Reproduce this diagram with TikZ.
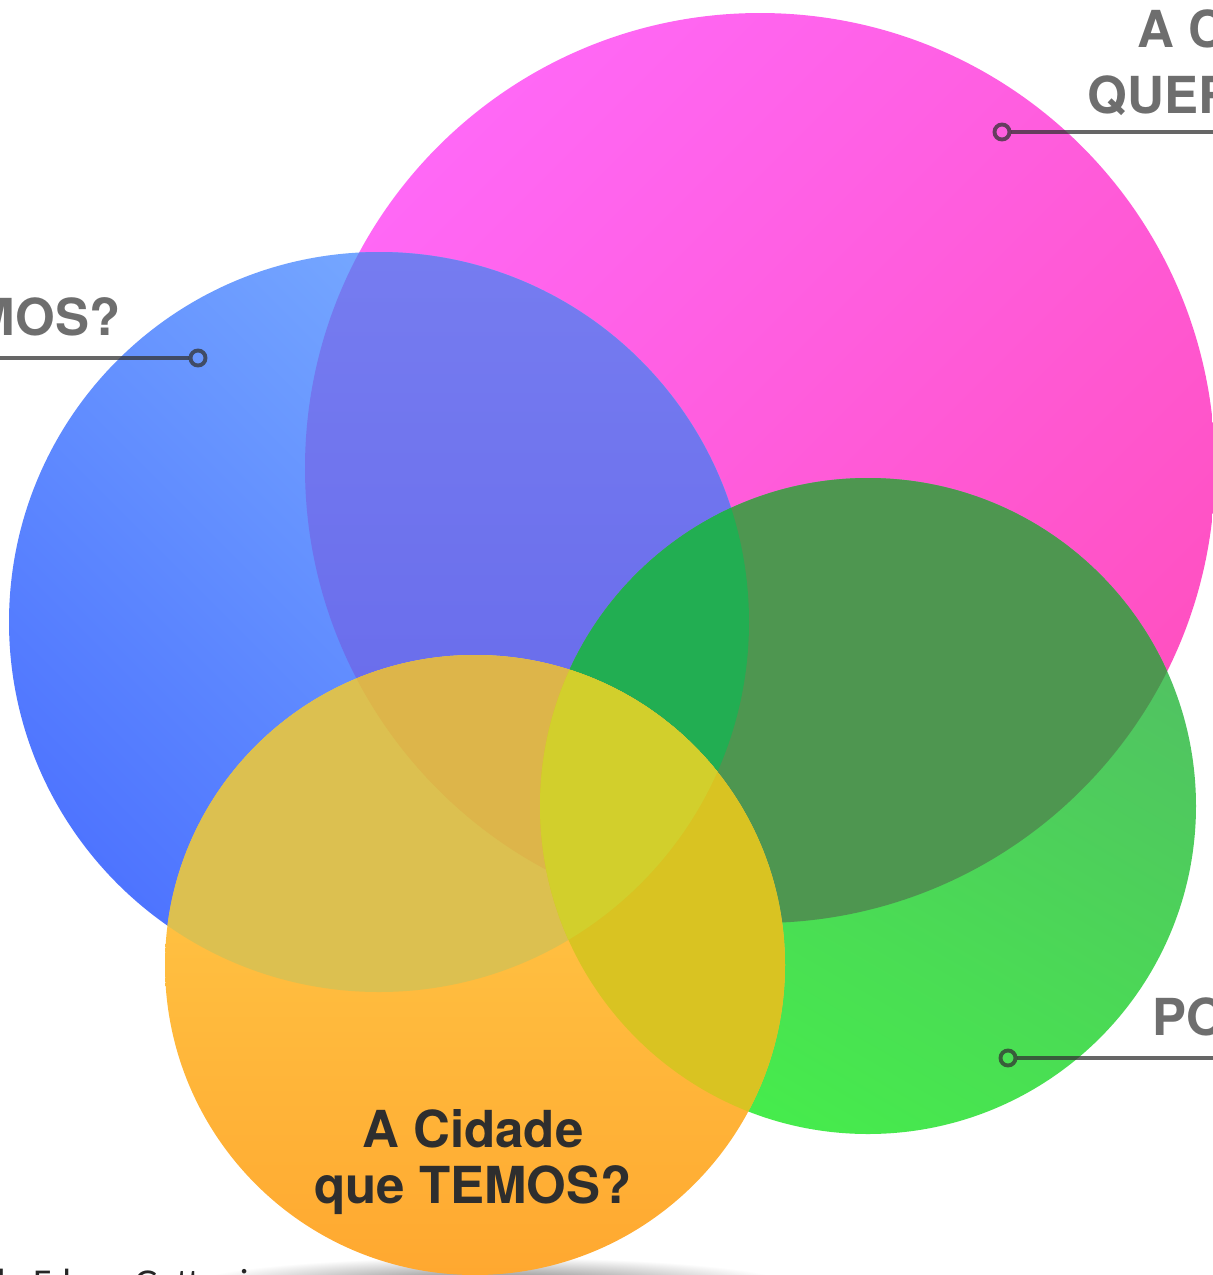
\documentclass[tikz,border=0pt]{standalone}
\usepackage{fontspec}
\setmainfont{TeX Gyre Heros}
\newfontfamily\creditfont{Carlito}
\usetikzlibrary{positioning}
\definecolor{labelgray}{HTML}{6E6E6E}
\definecolor{textdark}{HTML}{2E2E2E}
\definecolor{pinkTop}{HTML}{FF68F6}
\definecolor{pinkBot}{HTML}{FF50C0}
\definecolor{blueTop}{HTML}{7CB0FF}
\definecolor{blueBot}{HTML}{4E74FF}
\definecolor{greenTop}{HTML}{52BE64}
\definecolor{greenBot}{HTML}{46EC4C}
\definecolor{orangeTop}{HTML}{FFD24E}
\definecolor{orangeBot}{HTML}{FFA830}
\definecolor{bmTop}{HTML}{7C84F2}
\definecolor{bmBot}{HTML}{6466EA}
\definecolor{gmFill}{HTML}{4E9650}
\definecolor{gbmFill}{HTML}{22AE52}
\definecolor{obFill}{HTML}{DCC050}
\definecolor{obmFill}{HTML}{DDB54A}
\definecolor{ogFill}{HTML}{D9C322}
\definecolor{ogbFill}{HTML}{D2CF2C}

\begin{document}
\begin{tikzpicture}[x=0.01cm, y=0.01cm,
    marker/.style = {circle, draw=black!80, draw opacity=0.75, line width=1.1pt,
                     inner sep=0pt, minimum size=0.15cm},
    callout/.style = {draw=black!80, draw opacity=0.75, line width=1.1pt},
    label/.style = {text=labelgray, inner sep=0pt,
                    font=\bfseries\fontsize{14.5}{16}\selectfont}]
    \def\circM{(760,-468) circle (455)}
    \def\circB{(379,-622) circle (370)}
    \def\circG{(868,-806) circle (328)}
    \def\circO{(475,-965) circle (310)}

    \useasboundingbox (0,0) rectangle (1213,-1275);
    \clip (0,0) rectangle (1213,-1275);

    % circles and overlaps
    \shade[top color=pinkTop, bottom color=pinkBot, shading angle=45] \circM;
    \shade[top color=blueTop, bottom color=blueBot, shading angle=-45] \circB;
    \begin{scope}
        \clip \circB;
        \shade[top color=bmTop, bottom color=bmBot] \circM;
    \end{scope}
    \shade[top color=greenTop, bottom color=greenBot, shading angle=-30] \circG;
    \begin{scope}
        \clip \circG;
        \fill[gmFill] \circM;
    \end{scope}
    \begin{scope}
        \clip \circG; \clip \circM;
        \fill[gbmFill] \circB;
    \end{scope}
    \shade[inner color=black!55, outer color=white] (490,-1285) ellipse (300 and 28);
    \shade[top color=orangeTop, bottom color=orangeBot] \circO;
    \begin{scope}
        \clip \circO;
        \fill[obFill] \circB;
    \end{scope}
    \begin{scope}
        \clip \circO; \clip \circB;
        \fill[obmFill] \circM;
    \end{scope}
    \begin{scope}
        \clip \circO;
        \fill[ogFill] \circG;
    \end{scope}
    \begin{scope}
        \clip \circO; \clip \circG;
        \fill[ogbFill] \circB;
    \end{scope}

    % callouts
    \node[marker] (mQuer) at (1002,-132) {};
    \coordinate (eQuer) at (1213,-132);
    \draw[callout] (mQuer) -- (eQuer);
    \node[marker] (mTem) at (198,-358) {};
    \coordinate (eTem) at (0,-358);
    \draw[callout] (mTem) -- (eTem);
    \node[marker] (mPos) at (1008,-1058) {};
    \coordinate (ePos) at (1213,-1058);
    \draw[callout] (mPos) -- (ePos);

    % labels
    \node[label, anchor=base west] (tQuerA) at (1137,-47) {A C};
    \node[label, anchor=base west] (tQuerB) at (1087,-113) {QUER};
    \node[label, anchor=base east] (tTem) at (121,-335) {MOS?};
    \node[label, anchor=base west] (tPos) at (1152,-1035) {PO};
    \node[label, text=textdark, anchor=base] (tCid) at (473,-1147) {A Cidade};
    \node[label, text=textdark, anchor=base] (tTemos) at (473,-1203) {que TEMOS?};
    \node[anchor=base west, inner sep=0pt, text=black!85,
          font=\creditfont\fontsize{10.8}{12}\selectfont] (credit) at (-15,-1295) {de Edson Gattoni};
\end{tikzpicture}
\end{document}
